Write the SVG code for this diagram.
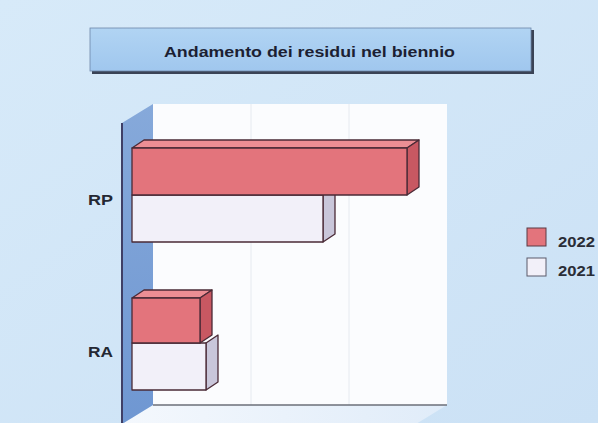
<svg xmlns="http://www.w3.org/2000/svg" width="598" height="423" viewBox="0 0 598 423">
<defs>
<linearGradient id="bg" x1="0" y1="0" x2="1" y2="1">
<stop offset="0" stop-color="#d7eaf9"/><stop offset="1" stop-color="#cbe1f5"/>
</linearGradient>
<linearGradient id="title" x1="0" y1="0" x2="0" y2="1">
<stop offset="0" stop-color="#b1d4f3"/><stop offset="1" stop-color="#a0c7ee"/>
</linearGradient>
<linearGradient id="wall" x1="0" y1="0" x2="0" y2="1">
<stop offset="0" stop-color="#86a9da"/><stop offset="1" stop-color="#6f97d2"/>
</linearGradient>
<linearGradient id="floor" x1="0" y1="0" x2="1" y2="0">
<stop offset="0" stop-color="#f4f8fd"/><stop offset="1" stop-color="#e0ecf9"/>
</linearGradient>
<style>
.lbl{font-family:"Liberation Sans",Arial,sans-serif;font-weight:bold;font-size:14px;fill:#242833}
.grid{stroke:#e6eaf0;stroke-width:1}
.edge{stroke:#4a2a36;stroke-width:1.3;stroke-linejoin:round}
.pf{fill:#e3747c}.pt{fill:#ec8e94}.ps{fill:#c85862}
.wf{fill:#f2f0f9}.wt{fill:#e6e3f0}.ws{fill:#c9c6da}
.leg{font-family:"Liberation Sans",Arial,sans-serif;font-weight:bold;font-size:14px;fill:#2a2d36}
</style>
</defs>
<rect width="598" height="423" fill="url(#bg)"/>
<g id="title-box">
<rect x="92" y="30" width="442" height="44" fill="#3a4356"/>
<rect x="90" y="28" width="441" height="43" fill="url(#title)" stroke="#6d86a8" stroke-width="0.8"/>
<text x="164" y="57" class="lbl" textLength="291" lengthAdjust="spacingAndGlyphs" style="fill:#1c1f33">Andamento dei residui nel biennio</text>
</g>
<g id="chart-frame">
<polygon points="153,104 447,104 447,405 153,405" fill="#fbfcfe"/>
<line class="grid" x1="251" y1="104" x2="251" y2="405"/>
<line class="grid" x1="349" y1="104" x2="349" y2="405"/>
<polygon points="153,405 447,405 416,424 122,424" fill="url(#floor)"/>
<polygon points="122,123 153,104 153,405 122,424" fill="url(#wall)"/>
<line x1="122" y1="123" x2="122" y2="423" stroke="#3f3f66" stroke-width="2"/>
<line x1="153" y1="405" x2="447" y2="405" stroke="#6b6f78" stroke-width="1.5"/>
</g>
<g id="bar-RP-2021">
<polygon class="ws edge" points="323,195 335,187 335,234 323,242"/>
<rect class="wf edge" x="132" y="195" width="191" height="47"/>
</g>
<g id="bar-RP-2022">
<polygon class="pt edge" points="132,148 144,140 419,140 407,148"/>
<polygon class="ps edge" points="407,148 419,140 419,187 407,195"/>
<rect class="pf edge" x="132" y="148" width="275" height="47"/>
</g>
<g id="bar-RA-2021">
<polygon class="ws edge" points="206,343 218,335 218,382 206,390"/>
<rect class="wf edge" x="132" y="343" width="74" height="47"/>
</g>
<g id="bar-RA-2022">
<polygon class="pt edge" points="132,298 144,290 212,290 200,298"/>
<polygon class="ps edge" points="200,298 212,290 212,335 200,343"/>
<rect class="pf edge" x="132" y="298" width="68" height="45"/>
</g>
<g id="axis-labels">
<text class="lbl" x="88" y="205" textLength="25" lengthAdjust="spacingAndGlyphs">RP</text>
<text class="lbl" x="88" y="357" textLength="25" lengthAdjust="spacingAndGlyphs">RA</text>
</g>
<g id="legend">
<rect x="527" y="228" width="19" height="18" class="pf" stroke="#5a3a44" stroke-width="1"/>
<text class="leg" x="558" y="247" textLength="37" lengthAdjust="spacingAndGlyphs">2022</text>
<rect x="527" y="258" width="19" height="18" class="wf" stroke="#5a5a6a" stroke-width="1"/>
<text class="leg" x="558" y="276" textLength="37" lengthAdjust="spacingAndGlyphs">2021</text>
</g>
</svg>
